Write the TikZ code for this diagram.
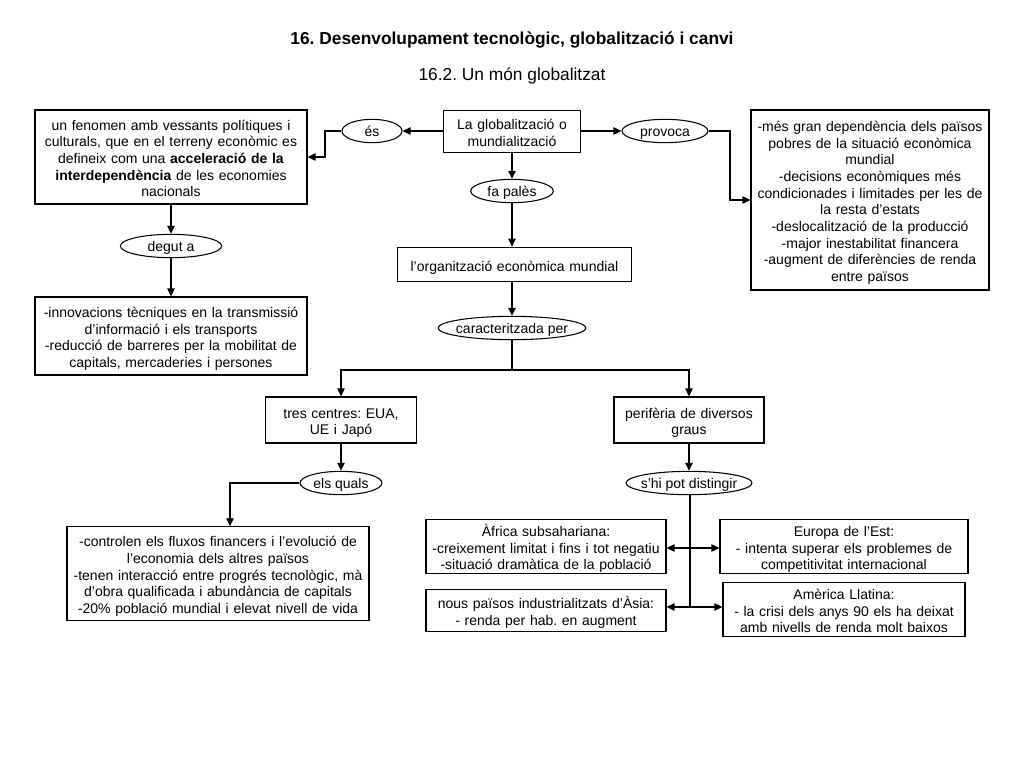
\documentclass[tikz,border=0pt]{standalone}
\usepackage{fontspec}
\setmainfont{Liberation Sans}
\usetikzlibrary{arrows.meta,shapes.geometric}
\newcommand\otext[1]{\makebox[0pt]{#1}}
\newcommand\topstrut{\rule{0pt}{12.4pt}}
\newcommand\botstrut{\rule[-2.5pt]{0pt}{2.5pt}}
\begin{document}
\frenchspacing
\begin{tikzpicture}[x=0.75pt,y=-0.75pt,
  txt/.style={font=\fontsize{10.5}{12.5}\selectfont, align=center, inner sep=0pt},
  box/.style={txt, draw, line width=0.8pt, rectangle, text width=#1,
    execute at begin node=\topstrut, execute at end node=\botstrut},
  oval/.style={txt, draw, line width=0.8pt, ellipse, text height=9.4pt, text depth=1pt, minimum height=17.5pt},
  conn/.style={line width=1pt, -{Triangle[length=6pt,width=5.5pt]}},
  plain/.style={line width=1pt}]
\useasboundingbox (0,0) rectangle (1024,768);
\fill[white] (0,0) rectangle (1024,768);

\node[font=\fontsize{13}{15}\selectfont\bfseries] (title) at (512,40) {16. Desenvolupament tecnològic, globalització i canvi};
\node[font=\fontsize{13}{15}\selectfont] (sub) at (512,76) {16.2. Un món globalitzat};

\node[box=204pt, minimum height=70.5pt] (b1) at (171,157) {un fenomen amb vessants polítiques i\\culturals, que en el terreny econòmic es\\defineix com una \textbf{acceleració de la}\\\textbf{interdependència} de les economies\\nacionals};
\node[oval, minimum width=45pt] (es) at (372,131) {\otext{és}};
\node[box=103pt, minimum height=32pt] (glob) at (512,131.5) {La globalització o\\mundialització};
\node[oval, minimum width=64.5pt] (prov) at (665,131) {\otext{provoca}};
\node[box=178.5pt, minimum height=135pt] (rb) at (870,200) {-més gran dependència dels països\\pobres de la situació econòmica\\mundial\\-decisions econòmiques més\\condicionades i limitades per les de\\la resta d'estats\\-deslocalització de la producció\\-major inestabilitat financera\\-augment de diferències de renda\\entre països};
\node[oval, minimum width=62pt] (fa) at (512,191) {\otext{fa palès}};
\node[oval, minimum width=76pt] (deg) at (171,246) {\otext{degut a}};
\node[box=204pt, minimum height=58.5pt] (inn) at (171,336) {-innovacions tècniques en la transmissió\\d'informació i els transports\\-reducció de barreres per la mobilitat de\\capitals, mercaderies i persones};
\node[box=175pt, minimum height=26pt] (org) at (514.5,264.5) {l’organització econòmica mundial};
\node[oval, minimum width=111pt] (car) at (512,328) {\otext{caracteritzada per}};
\node[box=113pt, minimum height=34.5pt] (tres) at (341,420) {tres centres: EUA,\\UE i Japó};
\node[box=112.5pt, minimum height=34.5pt] (per) at (689,420) {perifèria de diversos\\graus};
\node[oval, minimum width=61.5pt] (quals) at (341,483) {\otext{els quals}};
\node[oval, minimum width=94.5pt] (dist) at (689,483) {\otext{s’hi pot distingir}};
\node[box=226.5pt, minimum height=70pt] (ctr) at (218,573.5) {-controlen els fluxos financers i l’evolució de\\l’economia dels altres països\\-tenen interacció entre progrés tecnològic, mà\\d’obra qualificada i abundància de capitals\\-20\% població mundial i elevat nivell de vida};
\node[box=180pt, minimum height=40pt] (afr) at (546,546.5) {Àfrica subsahariana:\\-creixement limitat i fins i tot negatiu\\-situació dramàtica de la població};
\node[box=186pt, minimum height=40pt] (eur) at (844,546.5) {Europa de l’Est:\\- intenta superar els problemes de\\competitivitat internacional};
\node[box=180pt, minimum height=31pt] (asia) at (546,610.5) {nous països industrialitzats d’Àsia:\\- renda per hab. en augment};
\node[box=181.5pt, minimum height=41pt] (ame) at (844,609.5) {Amèrica Llatina:\\- la crisi dels anys 90 els ha deixat\\amb nivells de renda molt baixos};

\coordinate (esk) at (325,131);
\coordinate (provk) at (730,131);
\coordinate (quk) at (230,483);
\coordinate (split) at (512,370);
\coordinate (j1) at (690,548);
\coordinate (j2) at (690,607);

\draw[conn] (es.east -| glob.west) -- (es.east);
\draw[conn] (es.west) -- (esk) |- (b1.east |- 0,157);
\draw[conn] (prov.west -| glob.east) -- (prov.west);
\draw[conn] (prov.east) -- (provk) |- (rb.west |- 0,200);
\draw[conn] (glob.south) -- (fa.north);
\draw[conn] (fa.south) -- (fa.south |- org.north);
\draw[conn] (org.south -| car.north) -- (car.north);
\draw[plain] (car.south) -- (split);
\draw[conn] (split) -| (tres.north);
\draw[conn] (split) -| (per.north);
\draw[conn] (b1.south) -- (deg.north);
\draw[conn] (deg.south) -- (inn.north);
\draw[conn] (tres.south) -- (quals.north);
\draw[conn] (per.south) -- (dist.north);
\draw[conn] (quals.west) -- (quk) -- (quk |- ctr.north);
\draw[plain] (dist.south -| j1) -- (j2);
\draw[conn] (j1) -- (afr.east |- j1);
\draw[conn] (j1) -- (eur.west |- j1);
\draw[conn] (j2) -- (asia.east |- j2);
\draw[conn] (j2) -- (ame.west |- j2);
\end{tikzpicture}
\end{document}
